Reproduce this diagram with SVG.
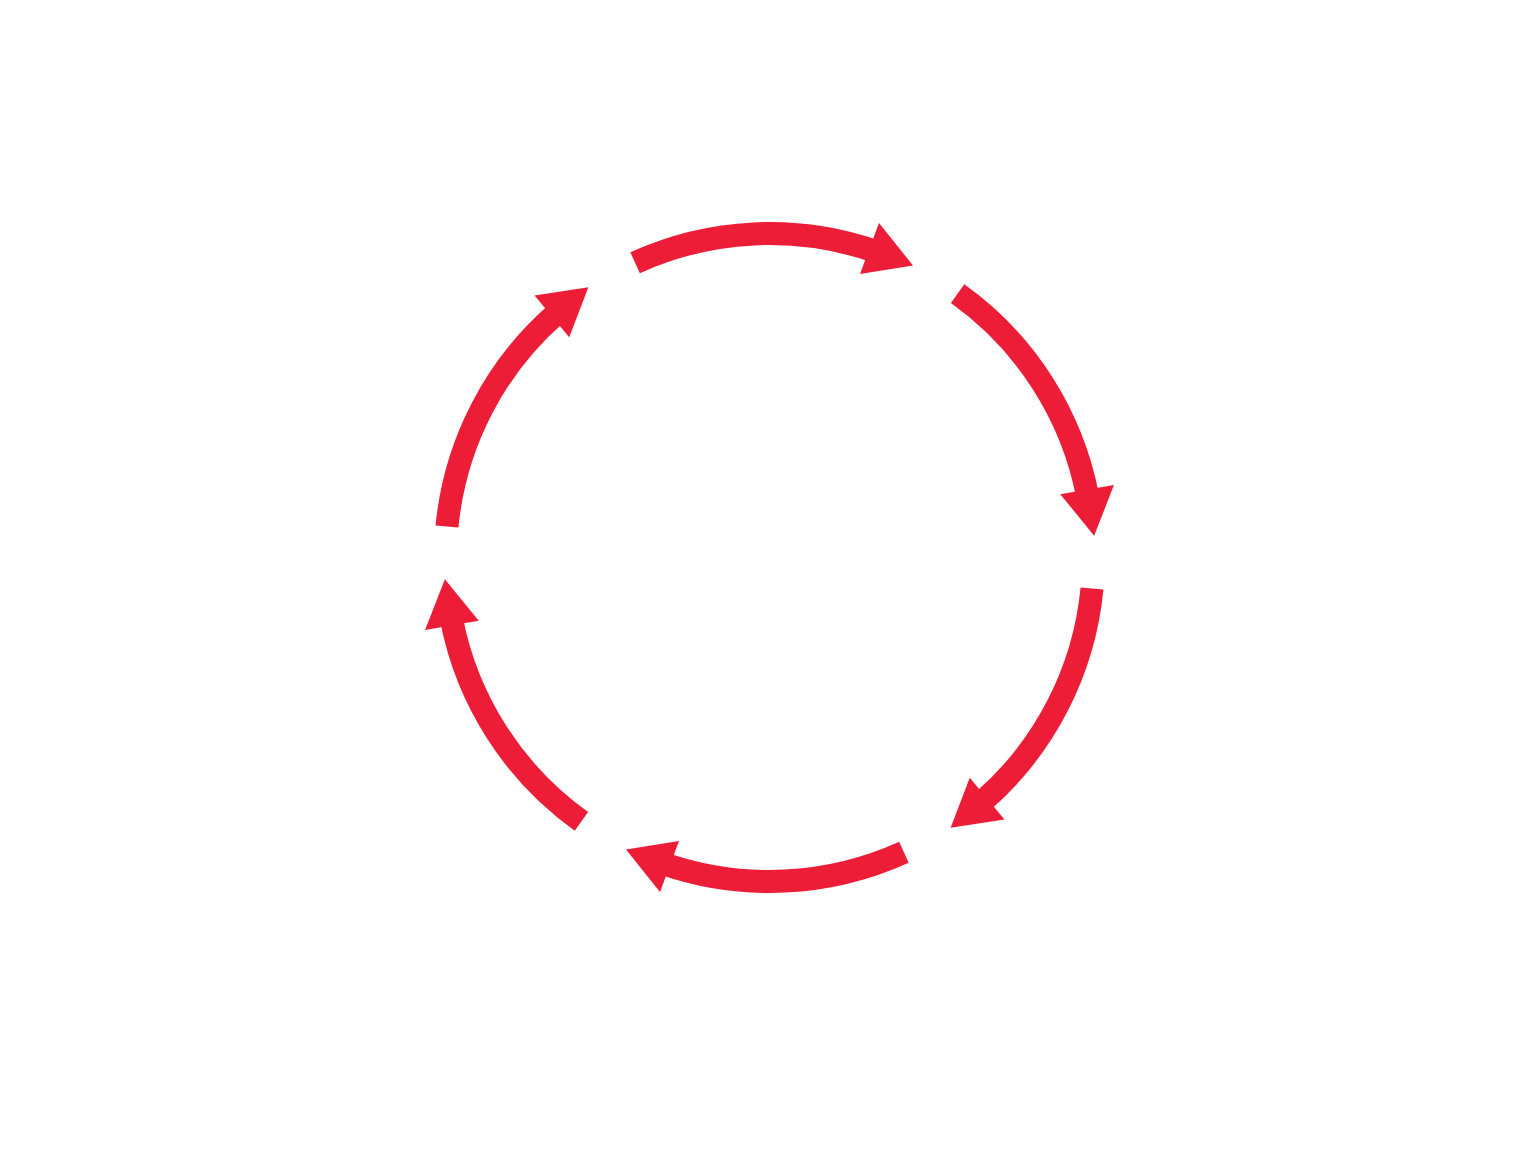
<svg xmlns="http://www.w3.org/2000/svg" xmlns:xlink="http://www.w3.org/1999/xlink" width="1534" height="1167" viewBox="0 0 1534 1167">
<style>
.arc{fill:none;stroke:#ED1C37;stroke-width:23;stroke-linecap:butt}
.head{fill:#ED1C37;stroke:none}
</style>
<defs>
<g id="seg">
<path class="arc" d="M635.1 262.7 A324 324 0 0 1 875.0 251.2"/>
<polygon class="head" points="879,223 913,265.5 860,274"/>
</g>
</defs>
<rect width="1534" height="1167" fill="#ffffff"/>
<g id="connectors">
<g id="arrow-1"><use xlink:href="#seg"/></g>
<g id="arrow-2"><use xlink:href="#seg" transform="rotate(60 769.5 557.5)"/></g>
<g id="arrow-3"><use xlink:href="#seg" transform="rotate(120 769.5 557.5)"/></g>
<g id="arrow-4"><use xlink:href="#seg" transform="rotate(180 769.5 557.5)"/></g>
<g id="arrow-5"><use xlink:href="#seg" transform="rotate(240 769.5 557.5)"/></g>
<g id="arrow-6"><use xlink:href="#seg" transform="rotate(300 769.5 557.5)"/></g>
</g>
</svg>
